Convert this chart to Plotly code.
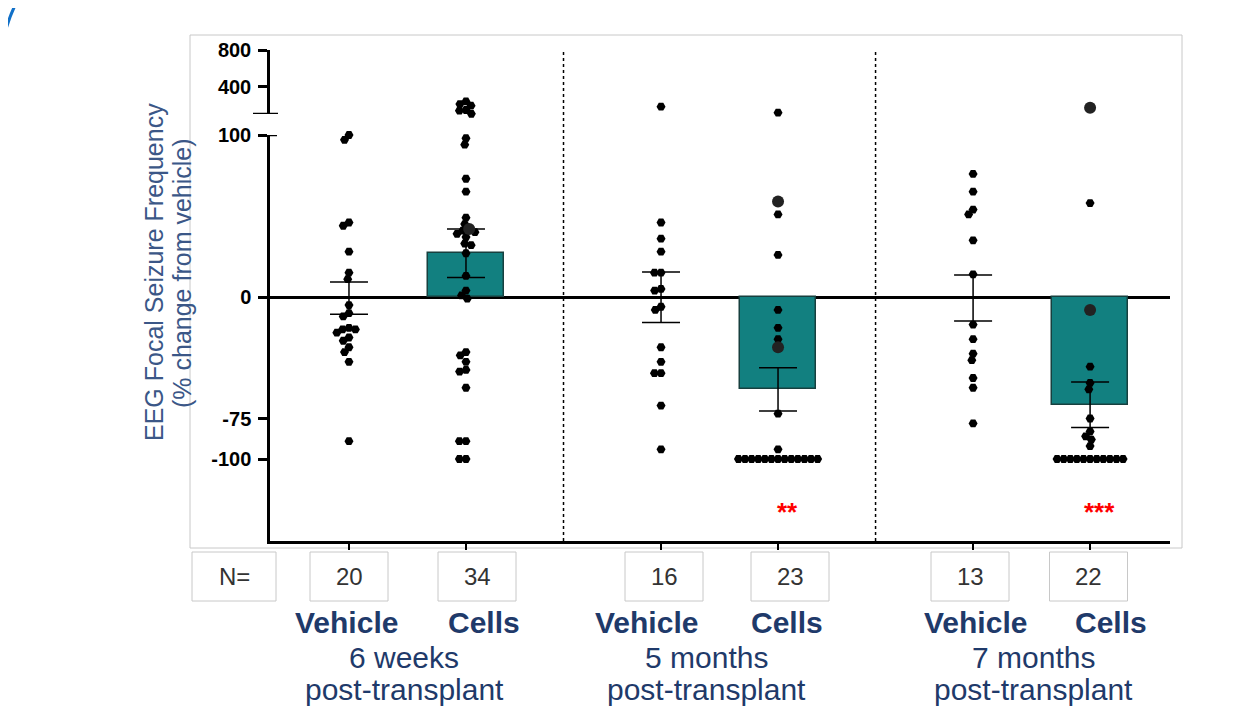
import math
import plotly.graph_objects as go

# ---------------- data ----------------
group_names = ["Vehicle", "Cells", "Vehicle", "Cells", "Vehicle", "Cells"]
time_labels = ["6 weeks", "5 months", "7 months"]
time_sub = "post-transplant"

veh_6w = [100, 97, 46, 44, 28, 15, 11, -5, -10, -12, -19, -20, -20, -22, -25, -27,
          -31, -34, -40, -89]
cells_6w = [237, 209, 191, 144, 136, 102,
            98, 94, 73, 65, 49, 45, 42, 41, 40, 39, 37, 33, 32, 27, 13, 4, 1, -1,
            -34, -36, -40, -45, -46, -56, -89, -89, -100, -100]
veh_5m = [180, 46, 36, 28, 15, 15, 5, 4, -6, -8, -31, -40, -47, -47, -67, -94]
cells_5m = [114, 59, 51, 26, -8, -19, -26, -31, -72, -94,
            -100, -100, -100, -100, -100, -100, -100, -100, -100, -100, -100, -100, -100]
veh_7m = [76, 65, 54, 51, 35, 14, -17, -26, -35, -39, -50, -56, -78]
cells_7m = [169, 58, -8, -43, -53, -57, -75, -83, -86, -88, -92,
            -100, -100, -100, -100, -100, -100, -100, -100, -100, -100, -100]

# points drawn as larger dark dots
big_cells_6w = [42]
big_cells_5m = [59, -31]
big_cells_7m = [169, -8]

bar_means = [-0.7, 27, -0.2, -57, -0.6, -66.5]
bar_sem = [10, 15, 15.6, 13.4, 14.2, 14]
sig_labels = ["", "", "", "**", "", "***"]

upper_ticks = [400, 800]
lower_ticks = [-100, -75, 0, 100]

# ---------------- layout constants (reference pixel space) ----------------
OFF = 8                                   # page body margin of the browser
W, H = 1244 - OFF, 726 - OFF
PL, PR, PT, PB = 270, 1170, 50, 541        # plot area in reference pixels
LOW_TOP_PX, UP_BOT_PX = 135, 114
low_range = [-150.6, 100]
up_range = [100, 800]
x_range = [-0.675, 7.017]

def xp(px):
    return (px - PL) / (PR - PL)

def yp(py):
    return (PB - py) / (PB - PT)

low_dom = [0, yp(LOW_TOP_PX)]
up_dom = [yp(UP_BOT_PX), 1]
low_scale = (PB - LOW_TOP_PX) / (low_range[1] - low_range[0])
up_scale = (UP_BOT_PX - PT) / (up_range[1] - up_range[0])
x_scale = (PR - PL) / (x_range[1] - x_range[0])

series = [veh_6w, cells_6w, veh_5m, cells_5m, veh_7m, cells_7m]
bigs = [[], big_cells_6w, [], big_cells_5m, [], big_cells_7m]
x_pos = [g * 2.667 + j for g in range(3) for j in range(2)]

TEAL = "#128080"
NAVY = "#1F3A6A"
FONT = "Liberation Sans, Arial, sans-serif"


def swarm(ys_px, d):
    n = len(ys_px)
    order = sorted(range(n), key=lambda i: -ys_px[i])
    placed = []
    offs = [0.0] * n
    for i in order:
        y = ys_px[i]
        cands = [0.0]
        for (px, py) in placed:
            dy = abs(py - y)
            if dy < d:
                dx = math.sqrt(d * d - dy * dy)
                cands += [px + dx, px - dx]
        cands.sort(key=lambda c: (round(abs(c), 6), c))
        for c in cands:
            if all((c - px) ** 2 + (y - py) ** 2 >= d * d - 1e-6 for px, py in placed):
                offs[i] = c
                placed.append((c, y))
                break
    return offs


fig = go.Figure()

# bars with SEM
fig.add_trace(go.Bar(
    x=x_pos, y=bar_means, width=0.65,
    marker=dict(color=["rgba(0,0,0,0)" if g == "Vehicle" else TEAL for g in group_names],
                line=dict(color=["rgba(0,0,0,0)" if g == "Vehicle" else "#17403F" for g in group_names],
                          width=1.5)),
    error_y=dict(type="data", array=bar_sem, color="black", thickness=1.5, width=19),
    showlegend=False, hoverinfo="skip"))

# scatter points
for k, vals in enumerate(series):
    low = [v for v in vals if v <= 100]
    up = [v for v in vals if v > 100]
    for part, axis, scale in ((low, "y", low_scale), (up, "y2", up_scale)):
        if not part:
            continue
        offs = swarm([v * scale for v in part], 6.6)
        big_left = list(bigs[k])
        xs_s, ys_s, xs_b, ys_b = [], [], [], []
        for v, o in zip(part, offs):
            xv = x_pos[k] + o / x_scale
            if v in big_left:
                big_left.remove(v)
                xs_b.append(xv); ys_b.append(v)
            else:
                xs_s.append(xv); ys_s.append(v)
        if xs_s:
            fig.add_trace(go.Scatter(x=xs_s, y=ys_s, yaxis=axis, mode="markers",
                                     marker=dict(symbol="hexagon2", size=9, color="black"),
                                     cliponaxis=False, showlegend=False, hoverinfo="skip"))
        if xs_b:
            fig.add_trace(go.Scatter(x=xs_b, y=ys_b, yaxis=axis, mode="markers",
                                     marker=dict(symbol="circle", size=12, color="#222222"),
                                     cliponaxis=False, showlegend=False, hoverinfo="skip"))

shapes = []
# light gray frame
shapes.append(dict(type="rect", xref="paper", yref="paper", x0=xp(190), x1=xp(1182),
                   y0=yp(548), y1=yp(35), line=dict(color="#C8C8C8", width=1), layer="below"))
# dotted separators between time points
for a, b in ((1, 2), (3, 4)):
    xm = (x_pos[a] + x_pos[b]) / 2
    shapes.append(dict(type="line", xref="x", yref="paper", x0=xm, x1=xm, y0=0, y1=1,
                       line=dict(color="black", width=1.5, dash="dot")))
# axis break marks
shapes.append(dict(type="line", xref="paper", yref="y2", x0=xp(253), x1=xp(278),
                   y0=up_range[0], y1=up_range[0], line=dict(color="black", width=2.5)))
shapes.append(dict(type="line", xref="paper", yref="y", x0=xp(268), x1=xp(277),
                   y0=low_range[1], y1=low_range[1], line=dict(color="black", width=2.5)))
# N boxes
box_y0, box_y1 = yp(601), yp(552)
shapes.append(dict(type="rect", xref="paper", yref="paper", x0=xp(192), x1=xp(276),
                   y0=box_y0, y1=box_y1, line=dict(color="#C8C8C8", width=1)))
box_centers = [349, 477, 664, 790, 970, 1088.5]
for c in box_centers:
    shapes.append(dict(type="rect", xref="paper", yref="paper", x0=xp(c - 39), x1=xp(c + 39),
                       y0=box_y0, y1=box_y1, line=dict(color="#C8C8C8", width=1)))
# blue arc at top-left corner
shapes.append(dict(type="path", xref="paper", yref="paper",
                   path=f"M {xp(0)},{yp(58)} Q {xp(5)},{yp(22)} {xp(19)},{yp(-2)}",
                   line=dict(color="#1170C8", width=3)))

ann = []

def add_text(px, py, text, size, color, weight="normal", angle=0):
    ann.append(dict(xref="paper", yref="paper", x=xp(px), y=yp(py), text=text,
                    xanchor="center", yanchor="middle", showarrow=False, textangle=angle,
                    font=dict(family=FONT, size=size, color=color, weight=weight)))

add_text(234, 576.5, "N=", 24, "#333333")
for c, vals in zip(box_centers, series):
    add_text(c, 576.5, str(len(vals)), 24, "#333333")
label_centers = [346.5, 483.5, 646.5, 786.5, 975, 1111]
for c, g in zip(label_centers, group_names):
    add_text(c, 622, g, 30, NAVY, "bold")
time_centers = [404, 706, 1033]
for c, t in zip(time_centers, time_labels):
    add_text(c, 657, t, 30, NAVY)
    add_text(c, 689, time_sub, 30, NAVY)
# y-axis title (two lines)
add_text(154, 272, "EEG Focal Seizure Frequency", 25, "#3B5787", angle=-90)
add_text(182, 273, "(% change from vehicle)", 25, "#3B5787", angle=-90)
# significance stars
for xv, s in zip(x_pos, sig_labels):
    if s:
        ann.append(dict(xref="x", yref="y", x=xv, y=-131, text=s, showarrow=False, xshift=9,
                        yshift=-3, xanchor="center", yanchor="middle",
                        font=dict(family=FONT, size=26, color="#FF0000", weight="bold")))

fig.update_layout(
    width=W, height=H, autosize=False,
    margin=dict(l=PL - OFF, r=W - (PR - OFF), t=PT - OFF, b=H - (PB - OFF), pad=0),
    paper_bgcolor="white", plot_bgcolor="white",
    bargap=0, showlegend=False,
    shapes=shapes, annotations=ann,
    xaxis=dict(range=x_range, showgrid=False, zeroline=False, showline=True, linecolor="black",
               linewidth=2.5, ticks="outside", ticklen=6, tickwidth=2, tickcolor="black",
               tickvals=x_pos, showticklabels=False, anchor="y"),
    yaxis=dict(domain=low_dom, range=low_range, showgrid=False, zeroline=True,
               zerolinecolor="black", zerolinewidth=2.5, showline=True, linecolor="black",
               linewidth=2.5, ticks="outside", ticklen=9, tickwidth=2.5, tickcolor="black",
               tickvals=lower_ticks, ticktext=[str(t) for t in lower_ticks],
               tickfont=dict(family=FONT, size=20, color="black", weight="bold"),
               ticklabelstandoff=3, anchor="x"),
    yaxis2=dict(domain=up_dom, range=up_range, showgrid=False, zeroline=False, showline=True,
                linecolor="black", linewidth=2.5, ticks="outside", ticklen=9, tickwidth=2.5,
                tickcolor="black", tickvals=upper_ticks, ticktext=[str(t) for t in upper_ticks],
                tickfont=dict(family=FONT, size=20, color="black", weight="bold"),
                ticklabelstandoff=3, anchor="x"),
)

fig.write_html("out.html", config={"displayModeBar": False})
